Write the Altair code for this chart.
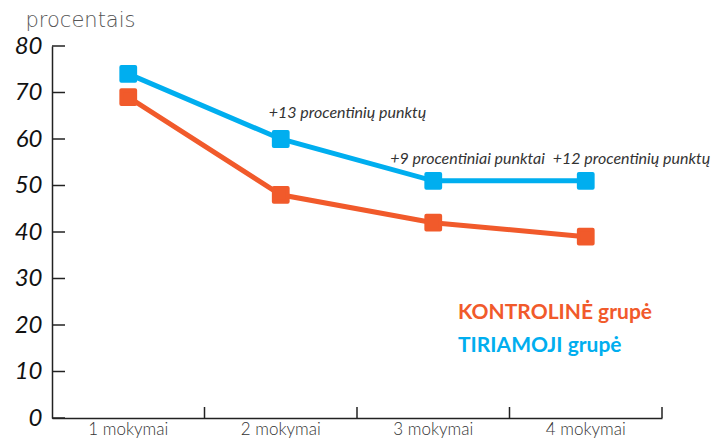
import altair as alt
import pandas as pd

categories = ["1 mokymai", "2 mokymai", "3 mokymai", "4 mokymai"]
kontroline = [69, 48, 42, 39]
tiriamoji = [74, 60, 51, 51]
series_names = ["KONTROLINĖ grupė", "TIRIAMOJI grupė"]
series_colors = ["#F15A2B", "#00AEEF"]
y_ticks = [0, 10, 20, 30, 40, 50, 60, 70, 80]
ann_texts = ["+13 procentinių punktų", "+9 procentiniai punktai", "+12 procentinių punktų"]
ann_cats = ["2 mokymai", "3 mokymai", "4 mokymai"]
ann_y = [65.5, 55.7, 55.7]

rows = []
for name, vals in zip(series_names, [kontroline, tiriamoji]):
    for c, v in zip(categories, vals):
        rows.append({"cat": c, "val": v, "series": name})
df = pd.DataFrame(rows)

W, H = 610, 372
FONT = "Lato"

xscale = alt.Scale(domain=categories, paddingInner=0, paddingOuter=0)
yscale = alt.Scale(domain=[0, 80], nice=False)
cscale = alt.Scale(domain=series_names, range=series_colors)

base = alt.Chart(df).encode(
    x=alt.X("cat:N", scale=xscale, sort=categories,
            axis=alt.Axis(title=None, labelAngle=0, tickSize=0, labelPadding=3,
                          labelFont=FONT, labelFontSize=17, labelFontWeight=300,
                          labelColor="#333",
                          domainColor="#222", domainWidth=1.5)),
    y=alt.Y("val:Q", scale=yscale,
            axis=alt.Axis(title="procentais", values=y_ticks, tickSize=0, grid=False,
                          labelPadding=10, labelFont=FONT, labelFontSize=24,
                          labelFontStyle="italic", labelColor="#111",
                          domainColor="#222", domainWidth=1.5,
                          titleAngle=0, titleAlign="left", titleBaseline="middle",
                          titleX=-27, titleY=-26, titleFont="DejaVu Sans", titleFontSize=21,
                          titleFontWeight=200, titleColor="#555")),
    color=alt.Color("series:N", scale=cscale, legend=None),
)

lines = base.mark_line(strokeWidth=5)
points = base.mark_point(shape="square", filled=True, size=190, opacity=1,
                         strokeWidth=4, strokeJoin="round").encode(
    stroke=alt.Color("series:N", scale=cscale, legend=None))

ytick_df = pd.DataFrame({"t": y_ticks})
yticks = alt.Chart(ytick_df).mark_rule(color="#222", strokeWidth=1.5).encode(
    y=alt.Y("t:Q", scale=yscale), x=alt.value(0), x2=alt.value(13))

xtick_df = pd.DataFrame({"cat": categories})
xticks = alt.Chart(xtick_df).mark_rule(color="#222", strokeWidth=1.5).encode(
    x=alt.X("cat:N", scale=xscale, sort=categories, bandPosition=1),
    y=alt.value(H), y2=alt.value(H - 11))

ann_layers = []
dxs = [-12, -43, -33]
for t, c, yv, dx in zip(ann_texts, ann_cats, ann_y, dxs):
    d = pd.DataFrame({"cat": [c], "val": [yv], "txt": [t]})
    ann_layers.append(alt.Chart(d).mark_text(
        align="left", baseline="middle", dx=dx, font=FONT, fontSize=16,
        fontStyle="italic", color="#333").encode(
        x=alt.X("cat:N", scale=xscale, sort=categories),
        y=alt.Y("val:Q", scale=yscale), text="txt:N"))

legend_text = []
for i, (name, col) in enumerate(zip(series_names, series_colors)):
    d = pd.DataFrame({"txt": [name]})
    legend_text.append(alt.Chart(d).mark_text(
        align="left", baseline="middle", font=FONT, fontSize=21, fontWeight="bold",
        color=col).encode(x=alt.value(406), y=alt.value(267 + 33 * i), text="txt:N"))

chart = alt.layer(lines, points, yticks, xticks, *ann_layers, *legend_text).properties(
    width=W, height=H,
    autosize=alt.AutoSizeParams(type="none"),
    padding={"left": 44, "top": 38, "right": 49, "bottom": 20},
).configure_view(stroke=None)

chart.save("out.html", embed_options={"renderer": "svg", "actions": False})
